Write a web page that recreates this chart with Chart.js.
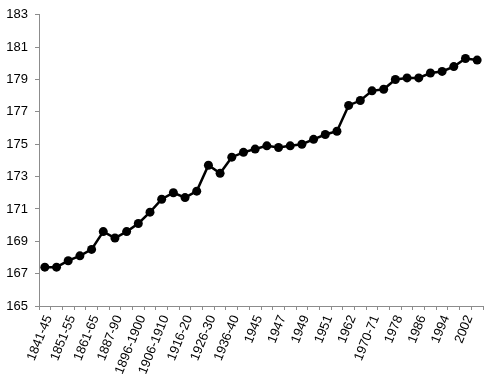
<!DOCTYPE html>
<html>
<head>
<meta charset="utf-8">
<script src="https://cdn.jsdelivr.net/npm/chart.js@4"></script>
<style>
    html, body { margin: 0; padding: 0; background: #fff; }
    .wrap { width: 497px; height: 382px; }
</style>
</head>
<body>
<div class="wrap"><canvas id="height_chart" width="497" height="382"></canvas></div>
<script>
'use strict'
// periods (only every other one gets a label on the axis)
const periods = [
    '1841-45', '1846-50', '1851-55', '1856-60', '1861-65', '1866-70',
    '1887-90', '1891-95', '1896-1900', '1901-05', '1906-1910', '1911-15',
    '1916-20', '1921-25', '1926-30', '1931-35', '1936-40', '1941-44',
    '1945', '1946', '1947', '1948', '1949', '1950', '1951', '1955',
    '1962', '1965', '1970-71', '1975', '1978', '1982', '1986', '1990',
    '1994', '1998', '2002', '2004'
];
// average height, cm
const heights = [
    167.4, 167.4, 167.8, 168.1, 168.5, 169.6, 169.2, 169.6, 170.1, 170.8,
    171.6, 172.0, 171.7, 172.1, 173.7, 173.2, 174.2, 174.5, 174.7, 174.9,
    174.8, 174.9, 175.0, 175.3, 175.6, 175.8, 177.4, 177.7, 178.3, 178.4,
    179.0, 179.1, 179.1, 179.4, 179.5, 179.8, 180.3, 180.2
];
const yMin = 165,
    yMax = 183,
    yStep = 2;

document.addEventListener('DOMContentLoaded', () => {
    let ctx = document.getElementById('height_chart').getContext('2d');
    const axisColor = '#8c8c8c';
    const font = { family: 'Liberation Sans, Arial, sans-serif', size: 13 };

    new Chart(ctx, {
        type: 'line',
        data: {
            labels: periods,
            datasets: [{
                data: heights,
                borderColor: '#000',
                backgroundColor: '#000',
                borderWidth: 2.5,
                pointRadius: 4.5,
                pointBorderWidth: 0,
                pointBackgroundColor: '#000',
                tension: 0,
                fill: false
            }]
        },
        options: {
            responsive: false,
            animation: false,
            layout: {
                padding: { top: 8, right: 14, left: 0, bottom: 0 }
            },
            plugins: {
                legend: { display: false },
                tooltip: { enabled: false }
            },
            scales: {
                x: {
                    offset: true,
                    grid: {
                        offset: true,
                        drawOnChartArea: false,
                        drawTicks: true,
                        tickLength: 4,
                        color: axisColor
                    },
                    border: { display: true, color: axisColor },
                    ticks: {
                        autoSkip: false,
                        minRotation: 68,
                        maxRotation: 68,
                        padding: 3,
                        labelOffset: 4,
                        color: '#000',
                        font: font,
                        callback: (v, i) => i % 2 === 0 ? periods[i] : ''
                    },
                    afterFit: (scale) => { scale.height = 76; }
                },
                y: {
                    min: yMin,
                    max: yMax,
                    grid: {
                        drawOnChartArea: false,
                        drawTicks: true,
                        tickLength: 4,
                        color: axisColor
                    },
                    border: { display: true, color: axisColor },
                    ticks: {
                        stepSize: yStep,
                        padding: 7,
                        color: '#000',
                        font: font
                    },
                    afterFit: (scale) => { scale.width = 39; }
                }
            }
        }
    });
});
</script>
</body>
</html>
